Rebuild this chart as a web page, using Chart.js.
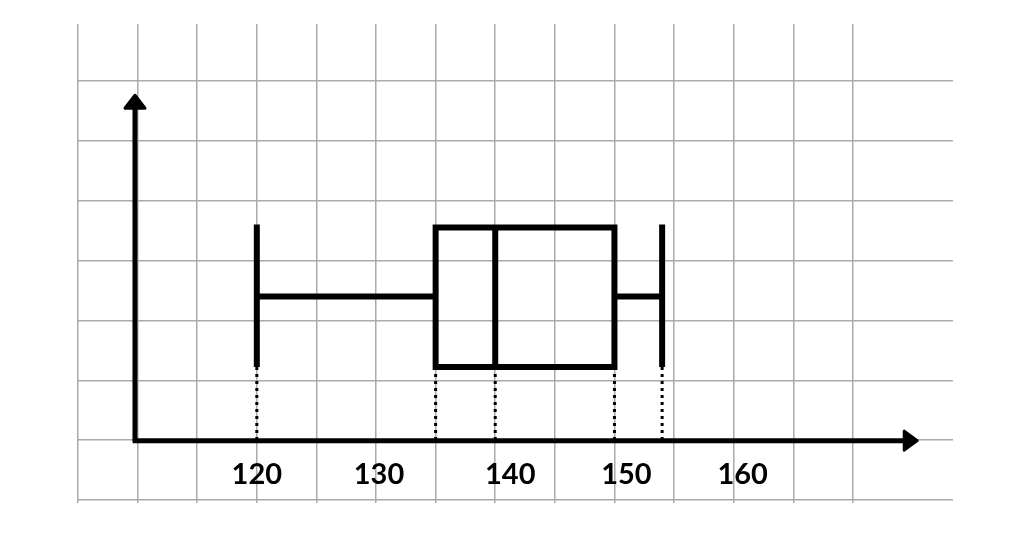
<!DOCTYPE html>
<html lang="en">
  <head>
    <meta charset="UTF-8" />
    <title>Box plot</title>
    <script src="https://cdn.jsdelivr.net/npm/chart.js"></script>
    <style>
      html,
      body {
        margin: 0;
        padding: 0;
        background: #fff;
      }
      .chart-wrap {
        width: 1024px;
        height: 540px;
      }
    </style>
  </head>
  <body>
    <div class="chart-wrap"><canvas id="chart"></canvas></div>

    <script>
      // five-number summary
      const statNames = ["min", "q1", "median", "q3", "max"];
      const statValues = [120, 135, 140, 150, 154];
      const tickLabels = [120, 130, 140, 150, 160];

      const [vMin, vQ1, vMed, vQ3, vMax] = statValues;

      // vertical placement of the box, in grid cells above the x axis
      const boxTop = 3.55;
      const boxBottom = 1.22;
      const whiskerY = 2.4;
      const capTop = 3.6;

      const ink = "#000";

      function seg(points, extra) {
        return Object.assign(
          {
            data: points,
            showLine: true,
            borderColor: ink,
            borderWidth: 6,
            pointRadius: 0,
            borderCapStyle: "butt",
            borderJoinStyle: "miter",
            tension: 0,
          },
          extra || {}
        );
      }

      const datasets = [
        // box
        seg(
          [
            { x: vQ1, y: boxBottom },
            { x: vQ1, y: boxTop },
            { x: vQ3, y: boxTop },
            { x: vQ3, y: boxBottom },
            { x: vQ1, y: boxBottom },
          ],
          { borderCapStyle: "square" }
        ),
        // median
        seg([
          { x: vMed, y: boxBottom },
          { x: vMed, y: boxTop },
        ]),
        // whiskers
        seg([
          { x: vMin, y: whiskerY },
          { x: vQ1, y: whiskerY },
        ]),
        seg([
          { x: vQ3, y: whiskerY },
          { x: vMax, y: whiskerY },
        ]),
        // end caps
        seg([
          { x: vMin, y: boxBottom },
          { x: vMin, y: capTop },
        ]),
        seg([
          { x: vMax, y: boxBottom },
          { x: vMax, y: capTop },
        ]),
      ];

      // dotted drop lines down to the axis
      statValues.forEach((v) => {
        datasets.push(
          seg(
            [
              { x: v, y: boxBottom },
              { x: v, y: 0 },
            ],
            { borderWidth: 3, borderDash: [3, 4] }
          )
        );
      });

      // arrows and tick labels
      const axesPlugin = {
        id: "arrowAxes",
        afterDatasetsDraw(chart, args, opts) {
          const { ctx, scales } = chart;
          const xs = scales.x;
          const ys = scales.y;
          const y0 = ys.getPixelForValue(0);
          const xAxisX = xs.getPixelForValue(opts.yAxisAt);
          ctx.save();
          ctx.strokeStyle = ink;
          ctx.fillStyle = ink;
          ctx.lineWidth = 5;
          ctx.lineCap = "butt";

          // x axis
          const xStart = xs.getPixelForValue(opts.xFrom);
          const xTip = xs.getPixelForValue(opts.xTo);
          ctx.beginPath();
          ctx.moveTo(xStart, y0 + 0.5);
          ctx.lineTo(xTip - 8, y0 + 0.5);
          ctx.stroke();
          ctx.lineJoin = "round";
          ctx.lineWidth = 3;
          ctx.beginPath();
          ctx.moveTo(xTip, y0 + 0.5);
          ctx.lineTo(xTip - 13, y0 - 9);
          ctx.lineTo(xTip - 13, y0 + 10);
          ctx.closePath();
          ctx.fill();
          ctx.stroke();

          // y axis
          const yTip = ys.getPixelForValue(opts.yTo);
          ctx.lineWidth = 5;
          ctx.beginPath();
          ctx.moveTo(xAxisX, y0 + 2);
          ctx.lineTo(xAxisX, yTip + 8);
          ctx.stroke();
          ctx.lineWidth = 3;
          ctx.beginPath();
          ctx.moveTo(xAxisX, yTip);
          ctx.lineTo(xAxisX - 10, yTip + 13);
          ctx.lineTo(xAxisX + 10, yTip + 13);
          ctx.closePath();
          ctx.fill();
          ctx.stroke();

          // labels
          ctx.font = "bold 29px Lato, 'Open Sans', sans-serif";
          ctx.textAlign = "center";
          ctx.textBaseline = "alphabetic";
          tickLabels.forEach((t, i) => {
            const px = xs.getPixelForValue(t) + (opts.nudge[i] || 0);
            ctx.fillText(String(t), px, y0 + 44);
          });
          ctx.restore();
        },
      };

      new Chart(document.getElementById("chart"), {
        type: "scatter",
        data: { datasets: datasets },
        options: {
          responsive: true,
          maintainAspectRatio: false,
          animation: false,
          layout: { padding: { left: 78, top: 24, right: 71, bottom: 37 } },
          plugins: {
            legend: { display: false },
            tooltip: { enabled: false },
            arrowAxes: {
              xFrom: 109.6,
              xTo: 175.4,
              yAxisAt: 109.78,
              yTo: 5.76,
              nudge: [0, 3, 15, 12, 9],
            },
          },
          scales: {
            x: {
              type: "linear",
              min: 105,
              max: 178.4,
              afterBuildTicks: (s) => {
                s.ticks = s.ticks.filter((t) => t.value % 5 === 0 && t.value <= 175);
              },
              ticks: { display: false, stepSize: 5 },
              grid: { color: "#aaa", lineWidth: 1.5, drawTicks: true, tickLength: 3 },
              border: { display: false },
            },
            y: {
              type: "linear",
              min: -1,
              max: 6.95,
              afterBuildTicks: (s) => {
                s.ticks = s.ticks.filter((t) => Number.isInteger(t.value));
              },
              ticks: { display: false, stepSize: 1 },
              grid: { color: "#aaa", lineWidth: 1.5, drawTicks: false },
              border: { display: false },
            },
          },
        },
        plugins: [axesPlugin],
      });
    </script>
  </body>
</html>
